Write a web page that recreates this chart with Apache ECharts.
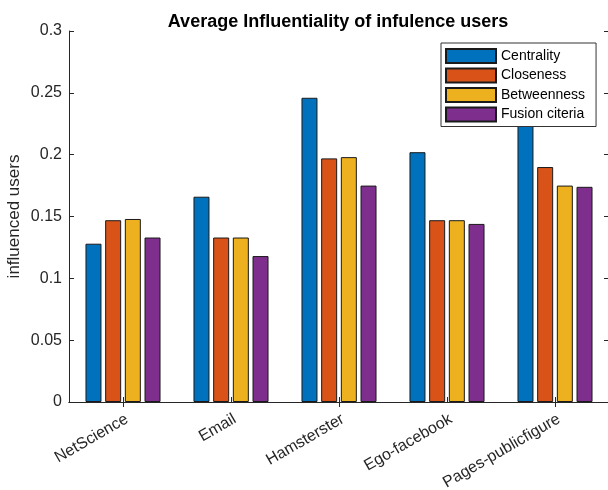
<!DOCTYPE html>
<html>
<head>
<meta charset="utf-8">
<script src="https://cdn.jsdelivr.net/npm/echarts@6/dist/echarts.min.js"></script>
<style>
  html, body { margin: 0; padding: 0; background: #fff; }
  #chart { width: 608px; height: 490px; }
</style>
</head>
<body>
<div id="chart"></div>
<script>
// Datasets on the category axis
const datasets = ['NetScience', 'Email', 'Hamsterster', 'Ego-facebook', 'Pages-publicfigure'];

// Average influentiality per method
const centrality = [0.128, 0.166, 0.246, 0.202, 0.270];
const closeness = [0.147, 0.133, 0.197, 0.147, 0.190];
const betweenness = [0.148, 0.133, 0.198, 0.147, 0.175];
const fusion = [0.133, 0.118, 0.175, 0.144, 0.174];

// Y tick labels
const yTicks = ['0', '0.05', '0.1', '0.15', '0.2', '0.25', '0.3'];

const seriesNames = ['Centrality', 'Closeness', 'Betweenness', 'Fusion citeria'];
const seriesData = [centrality, closeness, betweenness, fusion];
const colors = ['#0072BD', '#D95319', '#EDB120', '#7E2F8E'];

const font = 'Liberation Sans, Arial, sans-serif';
const axisColor = '#262626';

const chart = echarts.init(document.getElementById('chart'), null, { renderer: 'canvas' });

// Inward tick marks shared by the boxed axes
const innerTick = { show: true, inside: true, length: 5, lineStyle: { color: axisColor } };

chart.setOption({
  animation: false,
  color: colors,
  title: {
    text: 'Average Influentiality of infulence users',
    left: 333,
    textAlign: 'center',
    top: 8,
    textStyle: { fontFamily: font, fontSize: 18, fontWeight: 'bold', color: '#000' }
  },
  grid: { left: 69, right: -1, top: 31, bottom: 88, containLabel: false, outerBoundsMode: 'none' },
  legend: {
    orient: 'vertical',
    left: 441,
    top: 43,
    itemWidth: 50,
    itemHeight: 14,
    itemGap: 3.5,
    padding: [5, 11, 4, 4],
    backgroundColor: '#fff',
    borderColor: '#333',
    borderWidth: 1,
    borderRadius: 0,
    textStyle: { fontFamily: font, fontSize: 14, lineHeight: 14, color: '#000', padding: [0, 0, 0, 0] },
    data: seriesNames.map(n => ({ name: n, icon: 'rect' }))
  },
  xAxis: [
    {
      type: 'category',
      data: datasets,
      position: 'bottom',
      axisLine: { lineStyle: { color: axisColor, width: 1 } },
      axisTick: Object.assign({ alignWithLabel: true }, innerTick),
      axisLabel: {
        rotate: 30,
        margin: 9,
        align: 'right',
        verticalAlign: 'top',
        fontFamily: font,
        fontSize: 16,
        color: axisColor
      }
    },
    {
      type: 'category',
      data: datasets,
      position: 'top',
      axisLine: { lineStyle: { color: axisColor, width: 1 } },
      axisTick: Object.assign({ alignWithLabel: true }, innerTick),
      axisLabel: { show: false }
    }
  ],
  yAxis: [
    {
      type: 'value',
      min: 0,
      max: 0.3,
      interval: 0.05,
      position: 'left',
      name: 'influenced users',
      nameLocation: 'middle',
      nameGap: 46,
      nameMoveOverlap: false,
      nameTextStyle: { fontFamily: font, fontSize: 17, color: axisColor },
      axisLine: { show: true, lineStyle: { color: axisColor, width: 1 } },
      axisTick: innerTick,
      splitLine: { show: false },
      axisLabel: {
        fontFamily: font,
        fontSize: 16,
        color: axisColor,
        margin: 7,
        formatter: (v) => yTicks[Math.round(v / 0.05)]
      }
    },
    {
      type: 'value',
      min: 0,
      max: 0.3,
      interval: 0.05,
      position: 'right',
      axisLine: { show: true, lineStyle: { color: axisColor, width: 1 } },
      axisTick: innerTick,
      splitLine: { show: false },
      axisLabel: { show: false }
    }
  ],
  series: seriesNames.map((name, i) => ({
    name: name,
    type: 'bar',
    xAxisIndex: 0,
    yAxisIndex: 0,
    data: seriesData[i],
    barWidth: 16,
    barGap: '23%',
    itemStyle: { color: colors[i], borderColor: '#1a1a1a', borderWidth: 1 },
    z: 2
  }))
});
</script>
</body>
</html>
